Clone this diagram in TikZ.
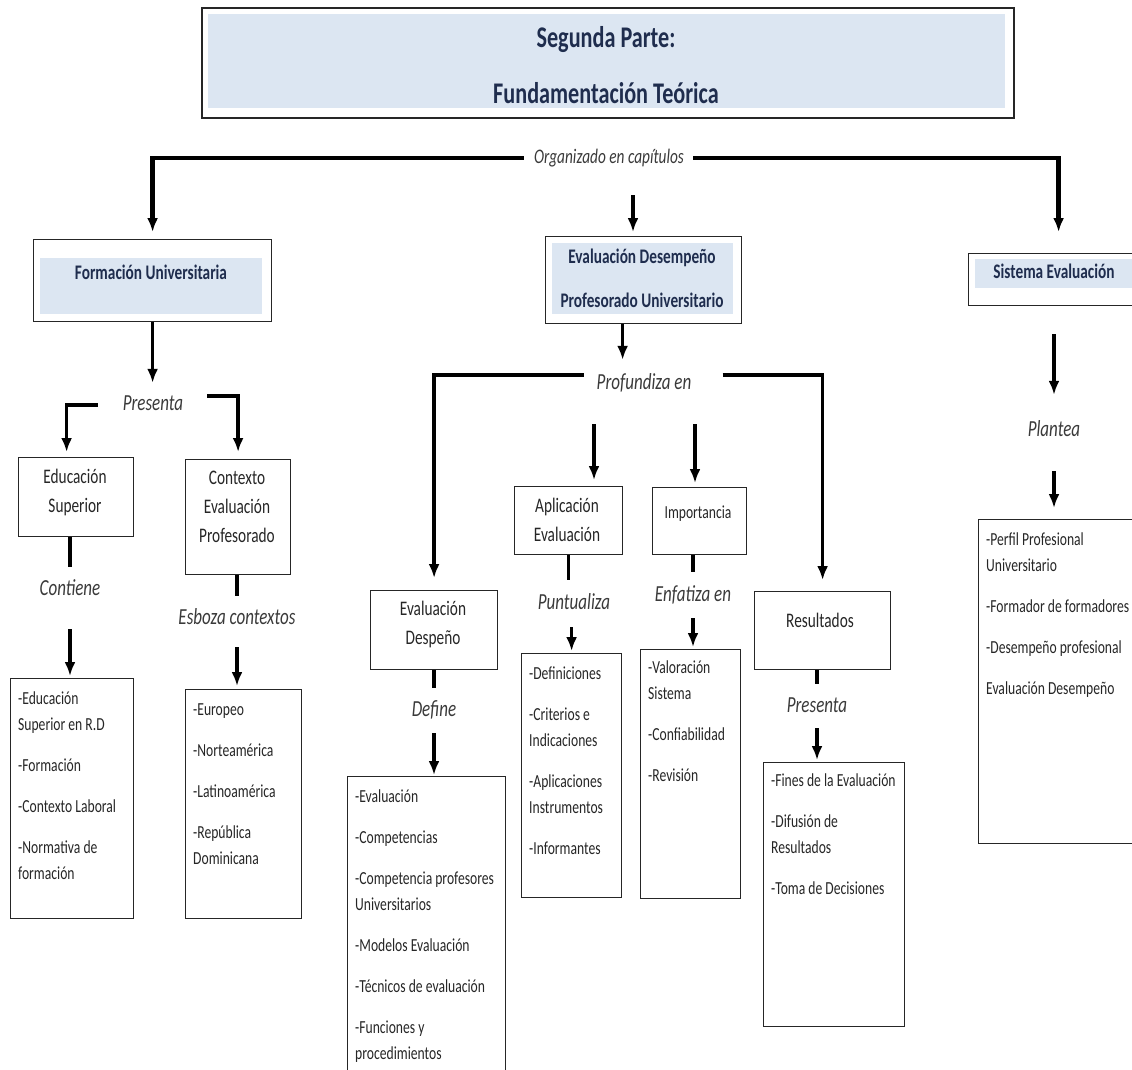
\documentclass[tikz,border=0pt]{standalone}
\usepackage{fontspec}
\setmainfont{Carlito}[FakeStretch=0.74]
\usetikzlibrary{arrows.meta}

\definecolor{headblue}{HTML}{DCE6F2}
\definecolor{navy}{HTML}{1F2D4E}
\definecolor{txtgray}{HTML}{262626}
\definecolor{lblgray}{HTML}{3A3A3A}

\tikzset{
  frame/.style={draw=black!85, line width=1.2pt, inner sep=0pt, anchor=north west},
  hfill/.style={fill=headblue, inner sep=0pt, anchor=north west},
  htext/.style={text=navy, font=\bfseries\fontsize{20.7}{44}\selectfont, align=center},
  btext/.style={text=txtgray, font=\fontsize{20.7}{29}\selectfont, align=center},
  ltext/.style={text=txtgray, font=\fontsize{18.4}{26}\selectfont, align=left, anchor=north west, inner sep=0pt},
  lbl/.style={text=lblgray, font=\itshape\fontsize{23}{26}\selectfont, inner sep=0pt, text height=14pt, text depth=4pt},
  con/.style={line width=3.5pt},
  arr/.style={line width=3.5pt, -{Latex[length=14pt,width=11pt]}},
}

\begin{document}
\begin{tikzpicture}[x=1pt, y=-1pt]

    \path[use as bounding box, clip] (0,0) rectangle (1132,1069);

    % cabecera
    \node[frame, line width=1.6pt, minimum width=812, minimum height=110] (tf) at (201,7) {};
    \node[hfill, minimum width=797, minimum height=94] (ti) at (208,14) {};
    \node[htext, font=\bfseries\fontsize{30}{56}\selectfont] (ttl) at (606,65) {Segunda Parte:\\Fundamentación Teórica};

    \node[lbl, font=\itshape\fontsize{20.7}{24}\selectfont] (org) at (609,158) {Organizado en capítulos};
    \coordinate (orgm) at (633,195);

    % capitulos
    \node[frame, minimum width=238, minimum height=82] (fu) at (33,239) {};
    \node[hfill, minimum width=222, minimum height=56] (fuin) at (40,258) {};
    \node[htext] (fut) at (151,272) {Formación Universitaria};

    \node[frame, minimum width=196, minimum height=87] (ed) at (545,236) {};
    \node[hfill, minimum width=181, minimum height=71] (edin) at (552,243) {};
    \node[htext] (edt) at (642,278) {Evaluación Desempeño\\Profesorado Universitario};

    \node[frame, minimum width=180, minimum height=52] (se) at (968,253) {};
    \node[hfill, minimum width=170, minimum height=29] (sein) at (975,259) {};
    \node[htext] (set) at (1054,271) {Sistema Evaluación};

    % formacion universitaria
    \node[lbl] (pre1) at (153,405) {Presenta};
    \node[frame, minimum width=115, minimum height=79] (es) at (18,457) {};
    \node[btext] (est) at (75,492) {Educación\\Superior};
    \node[frame, minimum width=105, minimum height=115] (cep) at (185,459) {};
    \node[btext] (cept) at (237,507) {Contexto\\Evaluación\\Profesorado};
    \node[lbl] (cont) at (70,590) {Contiene};
    \node[lbl] (esb) at (237,619) {Esboza contextos};

    \node[frame, minimum width=123, minimum height=240] (l1) at (10,678) {};
    \node[ltext] (l1t) at ([shift={(8,8)}]l1.north west) {\strut-Educación\\Superior en R.D\\[15pt]-Formación\\[15pt]-Contexto Laboral\\[15pt]-Normativa de\\formación};
    \node[frame, minimum width=116, minimum height=229] (l2) at (185,689) {};
    \node[ltext] (l2t) at ([shift={(8,8)}]l2.north west) {\strut-Europeo\\[15pt]-Norteamérica\\[15pt]-Latinoamérica\\[15pt]-República\\Dominicana};

    % evaluacion desempeno
    \node[lbl] (prof) at (644,384) {Profundiza en};
    \coordinate (pa) at (594,424);
    \coordinate (pb) at (695,424);
    \node[frame, minimum width=108, minimum height=68] (ap) at (514,486) {};
    \node[btext] (apt) at (567,520) {Aplicación\\Evaluación};
    \node[frame, minimum width=94, minimum height=67] (imp) at (652,487) {};
    \node[btext, font=\fontsize{18.4}{26}\selectfont] (impt) at (698,514) {Importancia};
    \node[frame, minimum width=127, minimum height=79] (evd) at (370,590) {};
    \node[btext] (evdt) at (433,624) {Evaluación\\Despeño};
    \node[frame, minimum width=136, minimum height=78] (res) at (754,591) {};
    \node[btext] (rest) at (820,620) {Resultados};

    \node[lbl] (punt) at (574,604) {Puntualiza};
    \node[lbl] (enf) at (693,596) {Enfatiza en};
    \node[lbl] (def) at (434,711) {Define};
    \node[lbl] (pre2) at (817,707) {Presenta};

    \node[frame, minimum width=158, minimum height=320] (l3) at (347,776) {};
    \node[ltext] (l3t) at ([shift={(8,8)}]l3.north west) {\strut-Evaluación\\[15pt]-Competencias\\[15pt]-Competencia profesores\\Universitarios\\[15pt]-Modelos Evaluación\\[15pt]-Técnicos de evaluación\\[15pt]-Funciones y\\procedimientos};
    \node[frame, minimum width=100, minimum height=244] (l4) at (521,653) {};
    \node[ltext] (l4t) at ([shift={(8,8)}]l4.north west) {\strut-Definiciones\\[15pt]-Criterios e\\Indicaciones\\[15pt]-Aplicaciones\\Instrumentos\\[15pt]-Informantes};
    \node[frame, minimum width=100, minimum height=249] (l5) at (640,649) {};
    \node[ltext] (l5t) at ([shift={(8,6)}]l5.north west) {\strut-Valoración\\Sistema\\[15pt]-Confiabilidad\\[15pt]-Revisión};
    \node[frame, minimum width=141, minimum height=264] (l6) at (763,762) {};
    \node[ltext] (l6t) at ([shift={(8,6)}]l6.north west) {\strut-Fines de la Evaluación\\[15pt]-Difusión de\\Resultados\\[15pt]-Toma de Decisiones};

    % sistema evaluacion
    \node[lbl] (plan) at (1054,431) {Plantea};
    \node[frame, minimum width=170, minimum height=324] (l7) at (978,519) {};
    \node[ltext] (l7t) at ([shift={(8,8)}]l7.north west) {\strut-Perfil Profesional\\Universitario\\[15pt]-Formador de formadores\\[15pt]-Desempeño profesional\\[15pt]Evaluación Desempeño};

    % conectores
    \draw[arr, line width=4.5pt, shorten <=10pt, shorten >=7pt] (org.west) -| (fu.north);
    \draw[arr, line width=4.5pt, shorten <=9pt, shorten >=21pt] (org.east) -| (se.north);
    \draw[arr, shorten >=4pt] (orgm) -- (orgm |- ed.north);

    \draw[arr, shorten >=13pt] (fu.south) -- (fu.south |- pre1.north);
    \draw[arr, shorten <=25pt, shorten >=5pt] (pre1.west) -| ([xshift=-9.5pt]es.north);
    \draw[arr, shorten <=24pt, shorten >=7pt] (pre1.north east) -| (cep.north);
    \draw[con, shorten >=14pt] (cont.north |- es.south) -- (cont.north);
    \draw[arr, shorten <=30pt, shorten >=2pt] (cont.south) -- (cont.south |- l1.north);
    \draw[con, shorten >=14pt] (esb.north |- cep.south) -- (esb.north);
    \draw[arr, shorten <=19pt, shorten >=3pt] (esb.south) -- (esb.south |- l2.north);

    \draw[arr, shorten >=15pt] ([xshift=-21pt]ed.south) -- ([xshift=-21pt]ed.south |- prof.north);
    \draw[arr, shorten <=13pt, shorten >=12pt] (prof.north west) -| (evd.north);
    \draw[arr, shorten <=31pt, shorten >=11pt] (prof.north east) -| (res.north);
    \draw[arr, shorten >=6pt] (pa) -- (pa |- ap.north);
    \draw[arr, shorten >=4pt] (pb) -- (pb |- imp.north);

    \draw[con, shorten >=15pt] (ap.south) -- (ap.south |- punt.north);
    \draw[arr, shorten <=14pt, shorten >=2pt] (l4.north |- punt.south) -- (l4.north);
    \draw[con, shorten >=15pt] (enf.north |- imp.south) -- (enf.north);
    \draw[arr, shorten <=13pt, shorten >=2pt] (enf.south) -- (enf.south |- l5.north);
    \draw[con, shorten >=14pt] (def.north |- evd.south) -- (def.north);
    \draw[arr, shorten <=13pt, shorten >=1pt] (def.south) -- (def.south |- l3.north);
    \draw[con, shorten >=14pt] (pre2.north |- res.south) -- (pre2.north);
    \draw[arr, shorten <=12pt, shorten >=2pt] (pre2.south) -- (pre2.south |- l6.north);

    \draw[arr, shorten <=28pt, shorten >=27pt] (plan.north |- se.south) -- (plan.north);
    \draw[arr, shorten <=31pt, shorten >=11pt] (plan.south) -- (plan.south |- l7.north);

\end{tikzpicture}
\end{document}
